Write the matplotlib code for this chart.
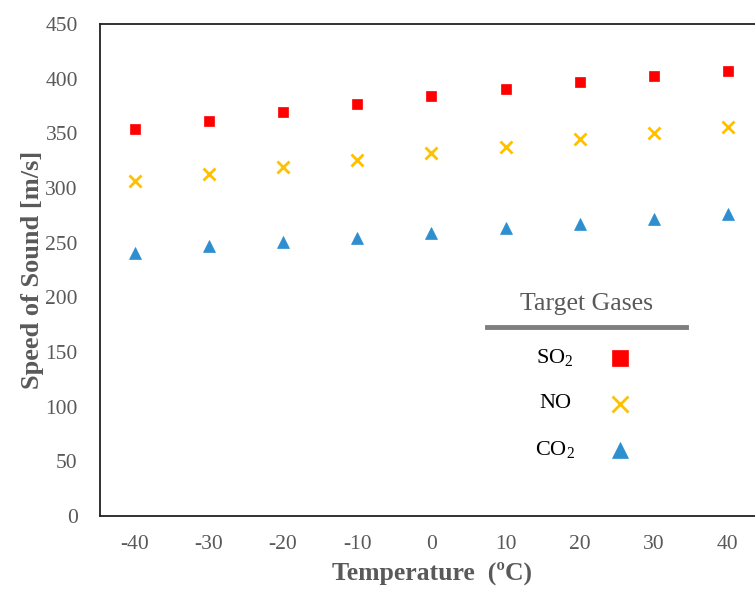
import matplotlib.pyplot as plt
from matplotlib.lines import Line2D

# === DATA ===
temps = [-40, -30, -20, -10, 0, 10, 20, 30, 40]
so2 = [354, 361.5, 369.5, 377, 384, 390.5, 397, 402.5, 407]
no = [306, 313, 319, 325.5, 332, 337.5, 345, 350, 356]
co2 = [240.5, 247, 250.5, 254, 259, 263, 267, 271.5, 276]

gases = ["SO$_2$", "NO", "CO$_2$"]
series = [so2, no, co2]
colors = ["#ff0000", "#ffc000", "#2e8fd0"]
markers = ["s", "x", "^"]
msizes = [7.5, 9, 8.5]

plt.rcParams['font.family'] = ['Liberation Serif', 'DejaVu Serif']
plt.rcParams['mathtext.fontset'] = 'custom'
plt.rcParams['mathtext.rm'] = 'Liberation Serif'
plt.rcParams['axes.unicode_minus'] = False

fig = plt.figure(figsize=(7.55, 5.89), dpi=100)
ax = fig.add_axes([100/755, 1 - 516/589, 665/755, 492/589])

for ys, c, m, ms in zip(series, colors, markers, msizes):
    ax.plot(temps, ys, linestyle='none', marker=m, color=c, markersize=ms,
            markeredgewidth=2 if m == 'x' else 0.5, clip_on=False)

ax.set_xlim(-44.7, 45)
ax.set_ylim(0, 450)
ax.set_xticks(temps)
ax.set_yticks(range(0, 451, 50))
ax.tick_params(length=0, labelsize=15.5, labelcolor='#595959')
ax.tick_params(axis='x', pad=14)
ax.tick_params(axis='y', pad=16)
for s in ['left', 'top', 'bottom']:
    ax.spines[s].set_linewidth(1.3)
    ax.spines[s].set_color('#222222')
ax.spines['right'].set_visible(False)

ax.set_xlabel("Temperature  (ºC)", fontsize=18.5, fontweight='bold', color='#595959', labelpad=5)
ax.set_ylabel("Speed of Sound [m/s]", fontsize=19, fontweight='bold', color='#595959', labelpad=1)

# legend drawn by hand
W, H = 755, 589
fig.text(586/W, 1 - 304/H, "Target Gases", ha='center', va='center', fontsize=18.5, color='#595959')
fig.add_artist(Line2D([487/W, 686/W], [1 - 327/H, 1 - 327/H], color='#7f7f7f', linewidth=3.5))
for i, (g, c, m) in enumerate(zip(gases, colors, markers)):
    y = 1 - (358 + i * 46) / H
    fig.text(555/W, y, g, ha='center', va='center', fontsize=16, color='black')
    fig.add_artist(Line2D([620/W], [y], linestyle='none', marker=m, color=c,
                          markersize=11, markeredgewidth=2 if m == 'x' else 0.5))

fig.savefig("out.png", dpi=100)
